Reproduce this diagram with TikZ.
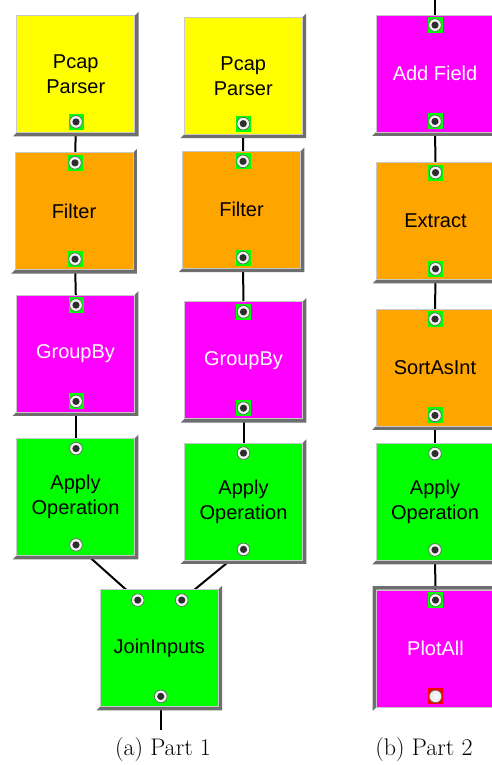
\documentclass[tikz,border=0pt]{standalone}
\usepackage{fontspec}
\newfontfamily\blockfont{Liberation Sans}
\usetikzlibrary{calc}

\definecolor{opYellow}{HTML}{FFFF00}
\definecolor{opOrange}{HTML}{FFA500}
\definecolor{opMagenta}{HTML}{FF00FF}
\definecolor{opGreen}{HTML}{00FF00}
\definecolor{portRed}{HTML}{FF0000}
\definecolor{frameGray}{HTML}{6E6E6E}
\definecolor{edgeGray}{HTML}{C8C8C8}
\definecolor{ringWhite}{HTML}{F2F2F2}
\definecolor{ringEdge}{HTML}{5A5A5A}
\definecolor{dotDark}{HTML}{2E2E2E}

\pgfdeclarelayer{wires}
\pgfdeclarelayer{frames}
\pgfsetlayers{wires,frames,main}

% raised bevel: dark strip along the right and bottom edges
\newcommand\raisedframe[1]{%
  \fill[frameGray] (#1.north east) -- ++(3.5,-3.5) |- ($(#1.south west)+(-3.5,3.5)$)
    -- (#1.south west) -- (#1.south east) -- cycle;}
% sunken bevel: dark strip along the left and top edges
\newcommand\sunkenframe[1]{%
  \fill[frameGray] (#1.south west) -- ++(-3.5,3.5) |- ($(#1.north east)+(0,-3.5)$)
    -- (#1.north east) -- (#1.north west) -- cycle;}

\begin{document}
\begin{tikzpicture}[x=1pt,y=-1pt,
  block/.style={draw=edgeGray, line width=0.8pt, fill=#1,
    minimum width=118pt, minimum height=117pt, inner sep=0pt, align=center,
    font=\blockfont\fontsize{20}{25}\selectfont},
  lighttext/.style={text=white},
  port/.style={rectangle, fill=#1, minimum width=15pt, minimum height=16pt, inner sep=0pt,
    path picture={
      \fill[ringWhite] (path picture bounding box.center) circle (6.3pt);
      \draw[ringEdge, line width=0.6pt] (path picture bounding box.center) circle (6.3pt);
      \fill[dotDark] (path picture bounding box.center) circle (3.6pt);}},
  port/.default=opGreen,
  openport/.style={rectangle, fill=#1, minimum width=15pt, minimum height=16pt, inner sep=0pt,
    path picture={
      \shade[inner color=white, outer color=ringWhite!85!gray] (path picture bounding box.center) circle (6.3pt);
      \draw[ringEdge, line width=0.6pt] (path picture bounding box.center) circle (6.3pt);}},
  openport/.default=portRed,
  wire/.style={draw=black, line width=2pt},
  caption/.style={font=\rmfamily\fontsize{24}{29}\selectfont, inner sep=0pt}
]
\useasboundingbox (0,0) rectangle (492,765);
\clip (0,0) rectangle (492,765);

% ---- part 1, left chain
\node[block=opYellow]  (P1) at (75.75,74)    {Pcap\\Parser};
\node[block=opOrange]  (F1) at (74,211.25)   {Filter};
\node[block=opMagenta, lighttext] (G1) at (75.5,353.5) {GroupBy};
\node[block=opGreen]   (A1) at (75.5,497)    {Apply\\Operation};

% ---- part 1, right chain
\node[block=opYellow]  (P2) at (243.25,75.75) {Pcap\\Parser};
\node[block=opOrange]  (F2) at (241.5,209.75) {Filter};
\node[block=opMagenta, lighttext] (G2) at (243.5,360.25) {GroupBy};
\node[block=opGreen]   (A2) at (243.5,501.5)  {Apply\\Operation};

\node[block=opGreen]   (J)  at (159.25,648)   {JoinInputs};

% ---- part 2
\node[block=opMagenta, lighttext] (AF) at (435,73.5)  {Add Field};
\node[block=opOrange]  (EX) at (435.5,221)  {Extract};
\node[block=opOrange]  (SA) at (435,367.5)  {SortAsInt};
\node[block=opGreen]   (A3) at (435,502)    {Apply\\Operation};
\node[block=opMagenta, lighttext] (PA) at (435.5,648.5) {PlotAll};

% ---- ports
\node[port] (P1o) at ($(P1.south)+(0.25,-11)$) {};
\node[port] (F1i) at ($(F1.north)+(1,10.5)$) {};
\node[port] (F1o) at ($(F1.south)+(1,-11)$) {};
\node[port] (G1i) at ($(G1.north)+(0.5,10.5)$) {};
\node[port] (G1o) at ($(G1.south)+(0.5,-11)$) {};
\node[port] (A1i) at ($(A1.north)+(0.5,10.5)$) {};
\node[port] (A1o) at ($(A1.south)+(0.5,-11)$) {};

\node[port] (P2o) at ($(P2.south)+(0,-11)$) {};
\node[port] (F2i) at ($(F2.north)+(1.5,10.5)$) {};
\node[port] (F2o) at ($(F2.south)+(1.5,-11)$) {};
\node[port] (G2i) at ($(G2.north)+(0,10.5)$) {};
\node[port] (G2o) at ($(G2.south)+(0,-11)$) {};
\node[port] (A2i) at ($(A2.north)+(0,10.5)$) {};
\node[port] (A2o) at ($(A2.south)+(0,-11)$) {};

\node[port] (Ja) at ($(J.north)+(-21.5,11)$) {};
\node[port] (Jb) at ($(J.north)+(22.5,11)$) {};
\node[port] (Jo) at ($(J.south)+(1.5,-10.5)$) {};

\node[port] (AFi) at ($(AF.north)+(0,10.5)$) {};
\node[port] (AFo) at ($(AF.south)+(0,-11)$) {};
\node[port] (EXi) at ($(EX.north)+(0,10.5)$) {};
\node[port] (EXo) at ($(EX.south)+(0,-11)$) {};
\node[port] (SAi) at ($(SA.north)+(0,10.5)$) {};
\node[port] (SAo) at ($(SA.south)+(0,-11)$) {};
\node[port] (A3i) at ($(A3.north)+(0,10.5)$) {};
\node[port] (A3o) at ($(A3.south)+(0,-11)$) {};
\node[port] (PAi) at ($(PA.north)+(0,10.5)$) {};
\node[openport] (PAo) at ($(PA.south)+(0,-11)$) {};

\coordinate (Jend) at ($(Jo)+(0,34)$);
\coordinate (AFtop) at ($(AFi)+(0,-26)$);

% ---- bevel frames
\begin{pgfonlayer}{frames}
  \raisedframe{P1} \raisedframe{F1} \raisedframe{G1} \raisedframe{A1}
  \raisedframe{P2} \raisedframe{F2} \raisedframe{G2} \raisedframe{A2}
  \raisedframe{J}
  \raisedframe{AF} \raisedframe{EX} \raisedframe{SA} \raisedframe{A3}
  \sunkenframe{PA}
\end{pgfonlayer}

% ---- connections between ports
\begin{pgfonlayer}{wires}
  \draw[wire] (P1o) -- (F1i);
  \draw[wire] (F1o) -- (G1i);
  \draw[wire] (G1o) -- (A1i);
  \draw[wire] (A1o) -- (Ja);
  \draw[wire] (P2o) -- (F2i);
  \draw[wire] (F2o) -- (G2i);
  \draw[wire] (G2o) -- (A2i);
  \draw[wire] (A2o) -- (Jb);
  \draw[wire] (Jo) -- (Jend);
  \draw[wire] (AFtop) -- (AFi);
  \draw[wire] (AFo) -- (EXi);
  \draw[wire] (EXo) -- (SAi);
  \draw[wire] (SAo) -- (A3i);
  \draw[wire] (A3o) -- (PAi);
\end{pgfonlayer}

% ---- captions
\node[caption] (capA) at (163,750) {(a) Part 1};
\node[caption] (capB) at (424,750) {(b) Part 2};
\end{tikzpicture}
\end{document}
